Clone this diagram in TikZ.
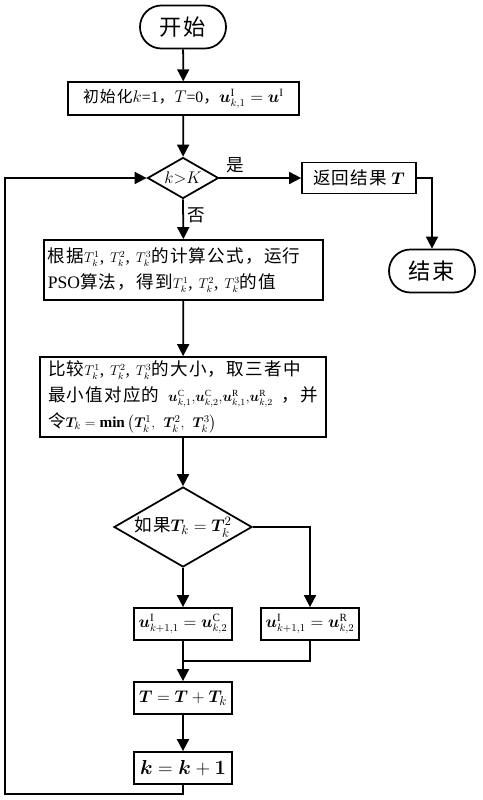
\documentclass[tikz,border=0pt]{standalone}
\usepackage{amsmath,amssymb}
\usepackage{bm}
\usepackage{fontspec}
\setmainfont{Liberation Serif}
\newfontfamily\cjk[LetterSpace=7]{Noto Sans CJK SC}
\usepackage{tikz}
\usetikzlibrary{positioning,arrows.meta,calc,shapes.geometric}

\newcommand{\Tk}[1]{{\fontsize{11.5}{22}\selectfont$T_k^{#1}$}}
\newcommand{\bu}{\bm{u}}

\begin{document}
\begin{tikzpicture}[
		font=\fontsize{15}{22}\selectfont,
		box/.style={
			draw,
			line width=1.5pt,
			align=center,
			inner sep=3pt
		},
		term/.style={
			draw,
			line width=1.5pt,
			rounded corners=0.64cm,
			minimum width=2.58cm,
			minimum height=1.29cm,
			font=\fontsize{19}{22}\selectfont
		},
		dec/.style={
			draw,
			diamond,
			aspect=1.7,
			inner sep=0pt,
			line width=1.5pt
		},
		flow/.style={-{Triangle[length=0.36cm,width=0.36cm]},line width=1.5pt}
		]
		
		\useasboundingbox (0,0) rectangle (14.46,-24);
		
		\node[term] (start) at (5.49,-0.81)
		{\cjk 开始};
		
		\node[box,minimum width=6.93cm,minimum height=0.99cm,font=\fontsize{13.5}{16}\selectfont] (init) at (5.5,-2.96)
		{{\cjk 初始化}$k$=1{\cjk ，}$T$=0{\cjk ，}$\bu^{\mathrm{I}}_{k,1}=\bu^{\mathrm{I}}$};
		
		\node[dec,minimum width=2.13cm,minimum height=1.23cm] (d1) at (5.49,-5.34)
		{$k{>}K$};
		
		\node[box,minimum width=3.42cm,minimum height=0.93cm] (ret) at (10.77,-5.34)
		{{\cjk 返回结果} $\bm{T}$};
		
		\node[term] (end) at (12.96,-8.13)
		{\cjk 结束};
		
		\node[box,align=left,text width=8.13cm,inner xsep=0.12cm,minimum height=1.8cm] (pso) at (5.5,-8.1)
		{{\cjk 根据}\Tk1, \Tk2, \Tk3{\cjk 的计算公式，运行}\\
			PSO{\cjk 算法，得到}\Tk1, \Tk2, \Tk3{\cjk 的值}};
		
		\node[box,align=left,text width=8.1cm,inner xsep=0.25cm,minimum height=2.4cm] (cmp) at (5.49,-11.91)
		{{\cjk 比较}\Tk1, \Tk2, \Tk3{\cjk 的大小，取三者中}\\
			{\cjk 最小值对应的}\hfill{\fontsize{11.5}{22}\selectfont$\bu^{\mathrm{C}}_{k,1}{,}\bu^{\mathrm{C}}_{k,2}{,}\bu^{\mathrm{R}}_{k,1}{,}\bu^{\mathrm{R}}_{k,2}$}\hfill{\cjk ，并}\\
			{\cjk 令}{\fontsize{13}{22}\selectfont$\bm{T}_k=\mathbf{min}\left(\bm{T}_k^1,\ \bm{T}_k^2,\ \bm{T}_k^3\right)$}};
		
		\node[dec,minimum width=4.14cm,minimum height=2.4cm] (d2) at (5.49,-15.81)
		{{\cjk 如果}$\bm{T}_k=\bm{T}_k^2$};
		
		\node[box,minimum width=2.94cm,minimum height=0.96cm,font=\fontsize{13.5}{16}\selectfont] (cset) at (5.49,-18.72)
		{$\bu^{\mathrm{I}}_{k+1,1}=\bu^{\mathrm{C}}_{k,2}$};
		
		\node[box,minimum width=2.94cm,minimum height=0.96cm,font=\fontsize{13.5}{16}\selectfont] (rset) at (9.3,-18.72)
		{$\bu^{\mathrm{I}}_{k+1,1}=\bu^{\mathrm{R}}_{k,2}$};
		
		\node[box,minimum width=2.94cm,minimum height=0.96cm] (tsum) at (5.49,-20.94)
		{$\bm{T}=\bm{T}+\bm{T}_k$};
		
		\node[box,minimum width=2.94cm,minimum height=0.96cm,font=\fontsize{16.5}{19}\selectfont] (kinc) at (5.49,-23.04)
		{$\bm{k}=\bm{k}+\bm{1}$};
		
		\coordinate (lp) at (0.15,-23.82);
		
		\draw[flow] (start)--(init);
		\draw[flow] (init)--(d1);
		\draw[flow] (d1.east)--node[above,pos=0.2]{\cjk 是}(ret.west);
		\draw[flow] (ret.east)-|(end.north);
		\draw[flow] (d1.south)--node[right,pos=0.4]{\cjk 否}(pso.north);
		\draw[flow] (pso)--(cmp);
		\draw[flow] (cmp)--(d2);
		\draw[flow] (d2.south)--(cset.north);
		\draw[flow] (d2.east)-|(rset.north);
		\draw[flow] (cset)--(tsum);
		\draw[line width=1.5pt] (rset.south)|-($(cset.south)!0.5!(tsum.north)$);
		\draw[flow] (tsum)--(kinc);
		\draw[flow] (kinc.south)|-(lp)|-(d1.west);
		
	\end{tikzpicture}
\end{document}
